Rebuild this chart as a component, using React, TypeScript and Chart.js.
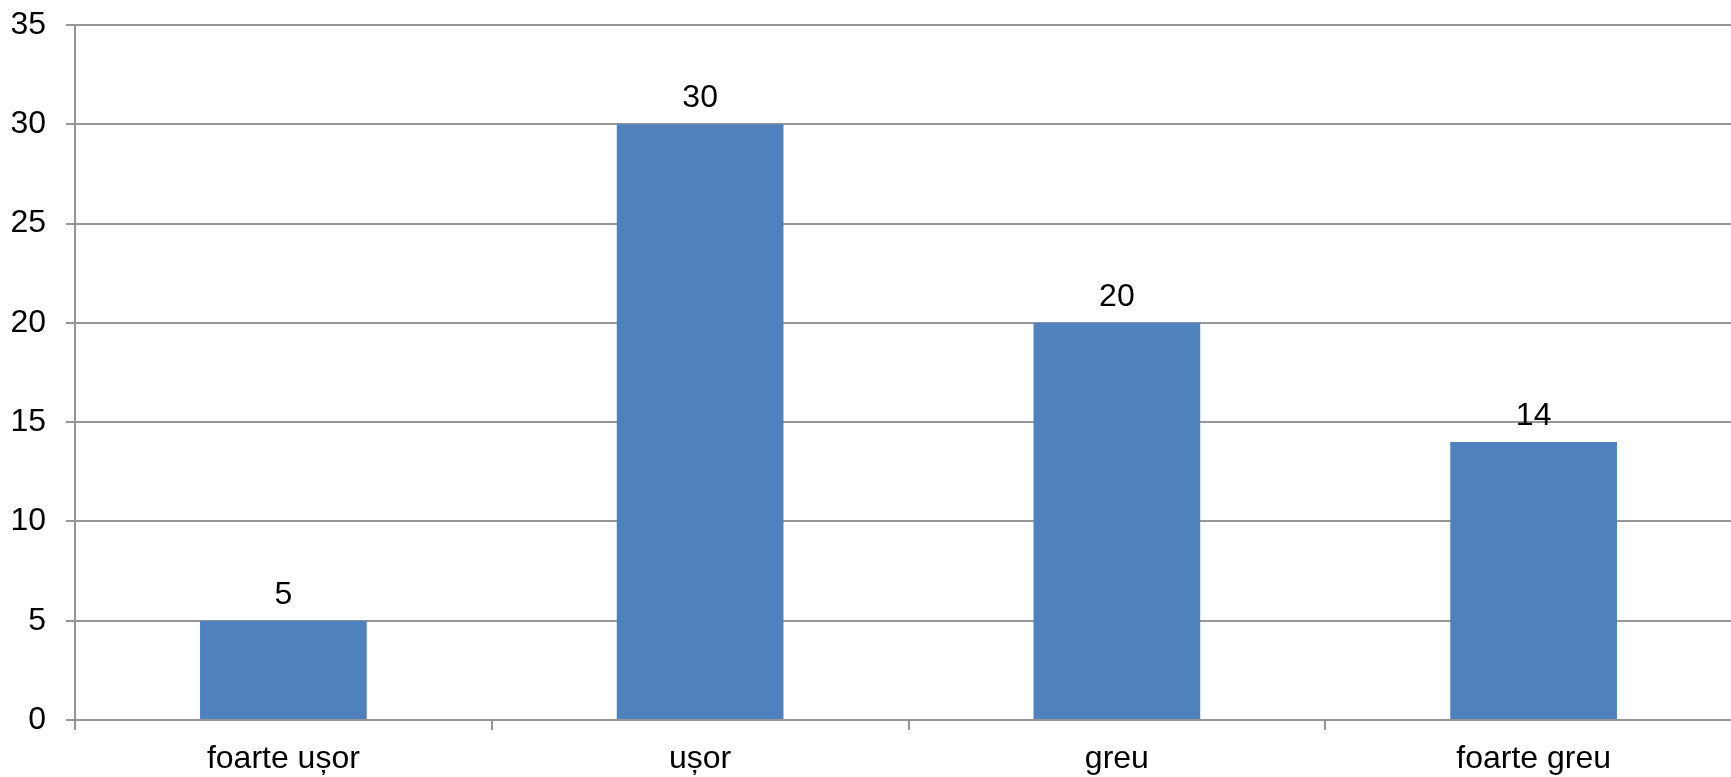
import React, { useEffect, useRef } from "react";
import { Chart, registerables } from "chart.js";

Chart.register(...registerables);

const categories = ["foarte ușor", "ușor", "greu", "foarte greu"];
const values = [5, 30, 20, 14];
const yMin = 0;
const yMax = 35;
const yStep = 5;

const FONT = '"Liberation Sans", Arial, sans-serif';
const FSIZE = 32;
const GRID = "#969696";
const BAR = "#4F81BD";

const valueLabels = {
  id: "valueLabels",
  afterDatasetsDraw(chart: any) {
    const ctx = chart.ctx;
    const meta = chart.getDatasetMeta(0);
    ctx.save();
    ctx.font = `${FSIZE}px ${FONT}`;
    ctx.fillStyle = "#000";
    ctx.textAlign = "center";
    ctx.textBaseline = "alphabetic";
    meta.data.forEach((el: any, i: number) => {
      ctx.fillText(String(values[i]), el.x, el.y - 17);
    });
    ctx.restore();
  },
};

export default function App() {
  const ref = useRef<HTMLCanvasElement>(null);
  useEffect(() => {
    const chart = new Chart(ref.current!, {
      type: "bar",
      data: {
        labels: categories,
        datasets: [
          {
            data: values,
            backgroundColor: BAR,
            borderWidth: 0,
            barPercentage: 0.4,
            categoryPercentage: 1,
          },
        ],
      },
      options: {
        animation: false,
        responsive: false,
        devicePixelRatio: 1,
        layout: { padding: { top: 25, right: 0, left: 0, bottom: 0 } },
        plugins: { legend: { display: false }, tooltip: { enabled: false } },
        scales: {
          x: {
            offset: true,
            grid: {
              display: true,
              offset: true,
              drawOnChartArea: false,
              drawTicks: true,
              tickLength: 10,
              color: GRID,
              lineWidth: 2,
            },
            border: { display: true, color: GRID, width: 2 },
            ticks: {
              font: { family: FONT, size: FSIZE },
              color: "#000",
              padding: 10,
              maxRotation: 0,
              autoSkip: false,
            },
            afterFit(scale: any) {
              scale.height = 57;
              scale.paddingLeft = 0;
              scale.paddingRight = 0;
            },
          },
          y: {
            min: yMin,
            max: yMax,
            ticks: {
              stepSize: yStep,
              font: { family: FONT, size: FSIZE },
              color: "#000",
              padding: 20,
            },
            grid: {
              color: GRID,
              lineWidth: 2,
              tickLength: 9,
              drawTicks: true,
            },
            border: { display: true, color: GRID, width: 2 },
            afterFit(scale: any) {
              scale.width = 75;
              scale.paddingTop = 0;
              scale.paddingBottom = 0;
            },
          },
        },
      },
      plugins: [valueLabels],
    });
    return () => chart.destroy();
  }, []);
  return (
    <div
      style={{
        position: "fixed",
        left: 0,
        top: 0,
        width: 1731,
        height: 777,
        overflow: "hidden",
        background: "#fff",
      }}
    >
      <canvas ref={ref} width={1742} height={777} style={{ display: "block" }} />
    </div>
  );
}
